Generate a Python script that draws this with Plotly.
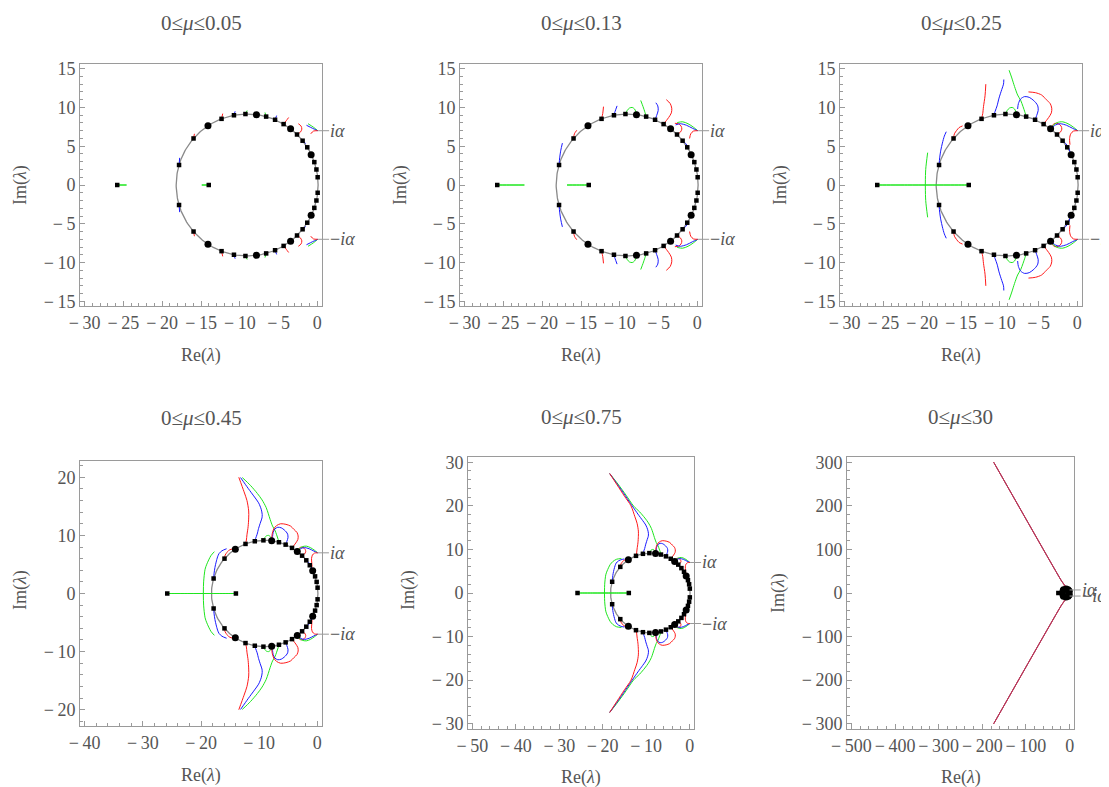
import math
import plotly.graph_objects as go

W, H = 1109, 787
PAGE_MARGIN = 8          # browser default body margin
FW, FH = W - PAGE_MARGIN, H - PAGE_MARGIN

# ---------------- data ----------------
PANEL_TITLES = ["0≤<i>μ</i>≤0.05", "0≤<i>μ</i>≤0.13", "0≤<i>μ</i>≤0.25",
                "0≤<i>μ</i>≤0.45", "0≤<i>μ</i>≤0.75", "0≤<i>μ</i>≤30"]

# reference circle (gray)
CIRCLE_CENTER = (-9.05, 0.0)
CIRCLE_RADIUS = 9.15

# eigenvalues at mu = 0 (upper half; lower half is the conjugate)
SQUARES_UPPER = [(-17.83, 2.58), (-15.96, 6.0), (-12.35, 8.53), (-10.75, 8.99),
                 (-9.27, 9.15), (-6.6, 8.82), (-5.45, 8.41), (-4.35, 7.85),
                 (-2.62, 6.51), (-1.9, 5.71), (-1.3, 4.86), (-0.39, 2.95),
                 (-0.12, 2.0), (0.04, 1.0)]
SQUARES_AXIS = [(-25.8, 0.0), (-14.0, 0.0)]
DOTS_UPPER = [(-14.1, 7.63), (-7.85, 9.07), (-3.45, 7.24), (-0.8, 3.9)]

ALPHA = 7.0  # +/- i alpha

# eigenvalue trajectories (upper half) and number of points shown per panel
R1 = [(-15.96, 6.0), (-15.85, 6.6), (-15.55, 7.05), (-15.25, 7.4), (-14.8, 7.62), (-14.4, 7.66)]
R1_CUTS = [2, 3, 5, 6, 6, 6]
B1 = [(-17.83, 2.58), (-17.75, 3.5), (-17.6, 4.5), (-17.4, 5.4), (-17.15, 6.3), (-16.9, 6.87),
      (-16.4, 7.35), (-15.6, 7.7), (-15.0, 7.8)]
B1_CUTS = [2, 4, 6, 8, 9, 9]
R2 = [(-12.35, 8.53), (-12.2, 9.2), (-12.1, 10.1), (-11.9, 11.5), (-11.8, 13.0), (-11.8, 14.2),
      (-12.1, 16.0), (-12.6, 17.5), (-13.5, 20.0), (-15.0, 22.2), (-16.7, 24.8), (-18.4, 27.4),
      (-174.0, 300.0)]
R2_CUTS = [2, 3, 5, 9, 12, 13]
B2 = [(-10.75, 8.99), (-10.6, 9.5), (-10.35, 10.2), (-10.1, 11.2), (-9.75, 12.3), (-9.52, 13.0),
      (-9.48, 13.6), (-9.65, 14.5), (-10.1, 15.6), (-10.8, 16.6), (-11.9, 18.1), (-13.2, 19.95),
      (-14.8, 22.3), (-16.6, 24.9), (-18.4, 27.4), (-174.0, 300.0)]
B2_CUTS = [2, 3, 7, 12, 15, 16]
G3 = [(-6.6, 8.82), (-6.75, 9.35), (-7.0, 10.1), (-7.3, 10.9), (-7.7, 11.6), (-8.1, 12.7),
      (-8.45, 13.8), (-8.8, 14.8), (-9.5, 16.1), (-10.3, 17.2), (-11.5, 18.6), (-12.9, 19.95),
      (-14.6, 22.4), (-16.5, 25.0), (-18.4, 27.4), (-174.0, 300.0)]
G3_CUTS = [2, 4, 8, 12, 15, 16]
G2 = [(-9.27, 9.15), (-9.05, 9.6), (-8.75, 9.92), (-8.4, 10.0), (-8.1, 9.8), (-7.9, 9.4)]
G2_CUTS = [2, 6, 6, 6, 6, 6]
B3 = [(-5.45, 8.41), (-5.25, 8.95), (-5.05, 9.6), (-5.1, 10.2), (-5.35, 10.6), (-5.7, 10.95),
      (-6.2, 11.3), (-6.8, 11.4), (-7.3, 11.1), (-7.6, 10.5), (-7.7, 9.8), (-7.8, 9.35)]
B3_CUTS = [2, 5, 11, 12, 12, 12]
R3 = [(-4.35, 7.85), (-4.0, 8.3), (-3.7, 8.7), (-3.35, 9.3), (-3.3, 9.9), (-3.5, 10.5),
      (-4.0, 11.0), (-4.6, 11.6), (-5.4, 11.9), (-6.3, 12.0), (-7.0, 11.7), (-7.5, 11.1),
      (-7.75, 10.3), (-7.85, 9.5)]
R3_CUTS = [3, 7, 10, 14, 14, 14]
R4 = [(-2.62, 6.51), (-2.2, 6.8), (-2.0, 7.2), (-2.1, 7.6), (-2.45, 7.9), (-2.9, 7.95), (-3.25, 7.65)]
R4_CUTS = [5, 6, 7, 7, 7, 7]
G5 = [(0.05, 7.0), (-0.5, 7.45), (-1.2, 7.9), (-1.9, 8.15), (-2.6, 8.05), (-3.1, 7.7), (-3.35, 7.4)]
G5_CUTS = [3, 5, 7, 7, 7, 7]
B5 = [(0.05, 7.0), (-0.6, 7.3), (-1.4, 7.7), (-2.2, 7.9), (-2.8, 7.75), (-3.2, 7.45)]
B5_CUTS = [3, 5, 6, 6, 6, 6]
R5 = [(0.05, 7.0), (-0.5, 6.95), (-0.85, 6.6), (-1.0, 6.0), (-0.95, 5.2), (-0.9, 4.6)]
R5_CUTS = [3, 4, 5, 6, 6, 6]
B6 = [(-1.9, 5.71), (-1.5, 5.35), (-1.15, 4.85), (-0.95, 4.3)]
B6_CUTS = [2, 3, 4, 4, 4, 4]
GL = [(-25.8, 0.0), (-24.6, 0.0), (-22.3, 0.0), (-19.6, 0.0)]
GL_CUTS = [2, 3, 4, 4, 4, 4]
GR = [(-14.0, 0.0), (-14.9, 0.0), (-16.8, 0.0), (-19.6, 0.0)]
GR_CUTS = [2, 3, 4, 4, 4, 4]
GA = [(-19.6, 0.0), (-19.55, 2.0), (-19.3, 4.17), (-19.0, 5.05), (-18.3, 6.5), (-17.7, 7.2),
      (-16.8, 7.75), (-15.7, 7.9), (-14.9, 7.8)]
GA_CUTS = [0, 0, 3, 6, 8, 9]

RED, BLUE, GREEN = "#ff1a1a", "#1a1aff", "#1ee61e"
WING_COLOR = "#b8385a"

TRAJ = [
    ("GL", GL, GREEN, GL_CUTS), ("GR", GR, GREEN, GR_CUTS), ("GA", GA, GREEN, GA_CUTS),
    ("B1", B1, BLUE, B1_CUTS), ("R1", R1, RED, R1_CUTS),
    ("G3", G3, GREEN, G3_CUTS), ("B2", B2, BLUE, B2_CUTS), ("R2", R2, RED, R2_CUTS),
    ("G2", G2, GREEN, G2_CUTS), ("B3", B3, BLUE, B3_CUTS), ("R3", R3, RED, R3_CUTS),
    ("R4", R4, RED, R4_CUTS), ("G5", G5, GREEN, G5_CUTS), ("B5", B5, BLUE, B5_CUTS),
    ("R5", R5, RED, R5_CUTS), ("B6", B6, BLUE, B6_CUTS),
]
WINGS = {"R2", "B2", "G3"}

# axis tick values per panel
XTICKS = [list(range(-30, 1, 5))] * 3 + [list(range(-40, 1, 10)), list(range(-50, 1, 10)),
                                          list(range(-500, 1, 100))]
YTICKS = [list(range(-15, 16, 5))] * 3 + [list(range(-20, 21, 10)), list(range(-30, 31, 10)),
                                          list(range(-300, 301, 100))]

# ---------------- layout (window pixels) ----------------
FRAMES = [(80, 322, 64, 306), (460, 702, 64, 306), (840, 1082, 64, 306),
          (80, 322, 461, 726), (468, 694, 457, 729), (847, 1074, 457, 729)]
XR = [[-30.6, 0.6]] * 3 + [[-40.8, 0.8], [-51, 1], [-510, 10]]
YR = [[-15.6, 15.6]] * 3 + [[-22.8, 22.8], [-31.2, 31.2], [-312, 312]]
XM = [1, 1, 1, 2, 2, 20]
YM = [1, 1, 1, 2, 2, 20]
TITLE_Y = [23, 23, 23, 418, 417, 417]
XLAB_Y = [355, 355, 355, 775, 777, 777]
YLAB_X = [20, 400, 780, 20, 408, 778]
YLAB_Y = [185, 185, 185, 590, 590, 593]

FONT = "Liberation Serif, Times New Roman, serif"
TXT = "#555555"
FRAMEC = "#9a9a9a"


def px_x(px):
    return (px - PAGE_MARGIN) / FW


def px_y(py):
    return 1 - (py - PAGE_MARGIN) / FH


def tick_text(v):
    return "−\u2009" + str(abs(v)) if v < 0 else str(v)


fig = go.Figure()

ncirc = 240
circ_x = [CIRCLE_CENTER[0] + CIRCLE_RADIUS * math.cos(2 * math.pi * i / ncirc) for i in range(ncirc + 1)]
circ_y = [CIRCLE_CENTER[1] + CIRCLE_RADIUS * math.sin(2 * math.pi * i / ncirc) for i in range(ncirc + 1)]

sq_x = [p[0] for p in SQUARES_UPPER] + [p[0] for p in SQUARES_UPPER] + [p[0] for p in SQUARES_AXIS]
sq_y = [p[1] for p in SQUARES_UPPER] + [-p[1] for p in SQUARES_UPPER] + [p[1] for p in SQUARES_AXIS]
dot_x = [p[0] for p in DOTS_UPPER] * 2
dot_y = [p[1] for p in DOTS_UPPER] + [-p[1] for p in DOTS_UPPER]

annotations = []
layout = dict(width=FW, height=FH, margin=dict(l=0, r=0, t=0, b=0, autoexpand=False),
              paper_bgcolor="white", plot_bgcolor="white", showlegend=False)

for k in range(6):
    sfx = "" if k == 0 else str(k + 1)
    xa, ya = "x" + sfx, "y" + sfx
    x0, x1, y0, y1 = FRAMES[k]

    fig.add_trace(go.Scatter(x=circ_x, y=circ_y, mode="lines",
                             line=dict(color="#8a8a8a", width=1.3),
                             xaxis=xa, yaxis=ya, hoverinfo="skip"))
    for name, pts, color, cuts in TRAJ:
        n = cuts[k]
        if n < 2:
            continue
        seg = pts[:n]
        xs = [p[0] for p in seg] + [None] + [p[0] for p in seg]
        ys = [p[1] for p in seg] + [None] + [-p[1] for p in seg]
        col = WING_COLOR if (k == 5 and name in WINGS) else color
        fig.add_trace(go.Scatter(x=xs, y=ys, mode="lines",
                                 line=dict(color=col, width=1, shape="spline", smoothing=0.8),
                                 xaxis=xa, yaxis=ya, hoverinfo="skip"))
    fig.add_trace(go.Scatter(x=sq_x, y=sq_y, mode="markers",
                             marker=dict(symbol="square", size=4.5, color="black"),
                             xaxis=xa, yaxis=ya, hoverinfo="skip"))
    fig.add_trace(go.Scatter(x=dot_x, y=dot_y, mode="markers",
                             marker=dict(symbol="circle", size=7, color="black"),
                             xaxis=xa, yaxis=ya, hoverinfo="skip"))

    tickfont = dict(family=FONT, size=18, color=TXT)
    common = dict(ticks="inside", ticklen=5, tickcolor=FRAMEC, showline=True, linecolor=FRAMEC,
                  linewidth=1, mirror=True, showgrid=False, zeroline=False, tickfont=tickfont,
                  automargin=False, fixedrange=True)
    layout["xaxis" + sfx] = dict(
        domain=[px_x(x0), px_x(x1)], range=XR[k], anchor=ya, tickmode="array",
        tickvals=XTICKS[k], ticktext=[tick_text(v) for v in XTICKS[k]],
        minor=dict(dtick=XM[k], tick0=0, ticks="inside", ticklen=3, tickcolor=FRAMEC, showgrid=False),
        **common)
    layout["yaxis" + sfx] = dict(
        domain=[px_y(y1), px_y(y0)], range=YR[k], anchor=xa, tickmode="array",
        tickvals=YTICKS[k], ticktext=[tick_text(v) for v in YTICKS[k]],
        minor=dict(dtick=YM[k], tick0=0, ticks="inside", ticklen=3, tickcolor=FRAMEC, showgrid=False),
        **common)

    annotations.append(dict(text=PANEL_TITLES[k], xref="paper", yref="paper",
                            x=px_x((x0 + x1) / 2), y=px_y(TITLE_Y[k]), showarrow=False,
                            xanchor="center", yanchor="middle",
                            font=dict(family=FONT, size=21, color=TXT)))
    annotations.append(dict(text="Re(<i>λ</i>)", xref="paper", yref="paper",
                            x=px_x((x0 + x1) / 2), y=px_y(XLAB_Y[k]), showarrow=False,
                            xanchor="center", yanchor="middle",
                            font=dict(family=FONT, size=18, color=TXT)))
    annotations.append(dict(text="Im(<i>λ</i>)", xref="paper", yref="paper",
                            x=px_x(YLAB_X[k]), y=px_y(YLAB_Y[k]), showarrow=False, textangle=-90,
                            xanchor="center", yanchor="middle",
                            font=dict(family=FONT, size=18, color=TXT)))
    for sgn, lab in ((1, "<i>iα</i>"), (-1, "−<i>iα</i>")):
        annotations.append(dict(text=lab, xref=xa, yref=ya, x=0.1 if k < 5 else 0.0, y=sgn * ALPHA,
                                showarrow=True, arrowhead=0, arrowwidth=1, arrowcolor="#999999",
                                ax=11, ay=0, xanchor="left", yanchor="middle", borderpad=0,
                                font=dict(family=FONT, size=18, color=TXT)))

layout["annotations"] = annotations
fig.update_layout(**layout)
fig.write_html("out.html")
